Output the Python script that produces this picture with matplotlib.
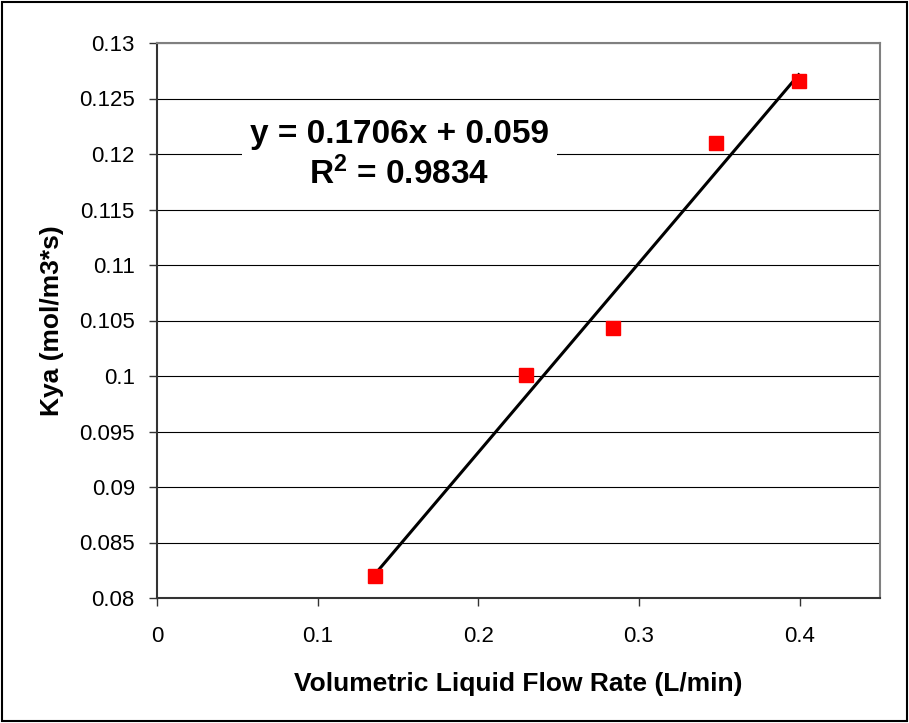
import numpy as np
import matplotlib
matplotlib.use("Agg")
import matplotlib.pyplot as plt
from matplotlib.patches import Rectangle

flow_rate = [0.1356, 0.2295, 0.2837, 0.3477, 0.3994]
kya = [0.0820, 0.1001, 0.1043, 0.1210, 0.1266]
slope, intercept = 0.1706, 0.059
x_ticks = [0, 0.1, 0.2, 0.3, 0.4]
y_ticks = [0.08, 0.085, 0.09, 0.095, 0.1, 0.105, 0.11, 0.115, 0.12, 0.125, 0.13]
y_tick_labels = ["0.08", "0.085", "0.09", "0.095", "0.1", "0.105", "0.11", "0.115", "0.12", "0.125", "0.13"]
x_tick_labels = ["0", "0.1", "0.2", "0.3", "0.4"]

plt.rcParams['font.family'] = ['Liberation Sans', 'DejaVu Sans']
plt.rcParams['mathtext.fontset'] = 'custom'
plt.rcParams['mathtext.rm'] = 'Liberation Sans'
plt.rcParams['mathtext.bf'] = 'Liberation Sans:bold'

fig = plt.figure(figsize=(9.09, 7.23), dpi=100)
ax = fig.add_axes([157/909, 1-598/723, (880-157)/909, (598-43)/723])

ax.set_xlim(0, 0.45)
ax.set_ylim(0.08, 0.13)
ax.set_yticks(y_ticks)
ax.set_yticklabels(y_tick_labels)
ax.set_xticks(x_ticks)
ax.set_xticklabels(x_tick_labels)
ax.yaxis.grid(True, color='black', linewidth=0.8)
ax.set_axisbelow(True)

for s in ['top', 'right']:
    ax.spines[s].set_color('#808080')
    ax.spines[s].set_linewidth(1.5)
for s in ['left', 'bottom']:
    ax.spines[s].set_color('#333333')
    ax.spines[s].set_linewidth(1.5)

ax.tick_params(axis='both', direction='out', length=6, width=1, colors='#333333',
               labelsize=16, labelcolor='black')
ax.tick_params(axis='x', pad=14)
ax.tick_params(axis='y', pad=10)

xfit = np.array([min(flow_rate), max(flow_rate)])
ax.plot(xfit, slope * xfit + intercept, color='black', linewidth=2.2, zorder=3)
ax.plot(flow_rate, kya, linestyle='none', marker='s', markersize=10,
        color='red', markeredgecolor='red', zorder=4)

ax.text(0.151, 0.1199, "y = 0.1706x + 0.059\n$\\mathbf{R^2}$ = 0.9834", fontsize=24,
        fontweight='bold', ha='center', va='center', linespacing=1.25,
        bbox=dict(facecolor='white', edgecolor='none', pad=6), zorder=5)

ax.set_xlabel("Volumetric Liquid Flow Rate (L/min)", fontsize=19, fontweight='bold', labelpad=18)
ax.set_ylabel("Kya (mol/m3*s)", fontsize=19, fontweight='bold', labelpad=11)

fig.patches.append(Rectangle((2/909, 2/723), 905/909, 719/723, transform=fig.transFigure,
                             fill=False, edgecolor='black', linewidth=1.5))

fig.savefig("out.png", dpi=100)
